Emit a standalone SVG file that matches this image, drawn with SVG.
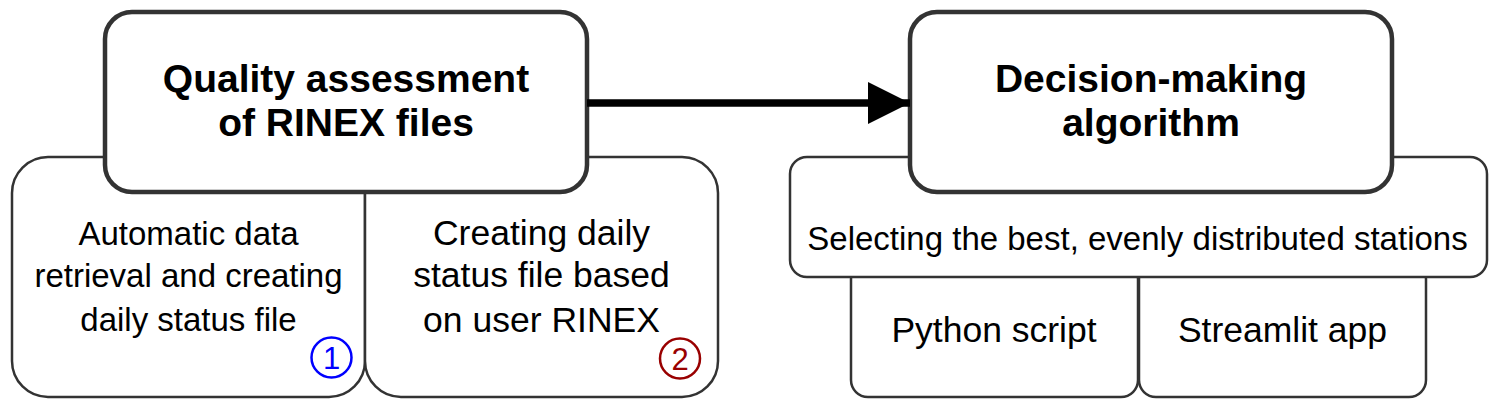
<svg xmlns="http://www.w3.org/2000/svg" width="1497" height="408" viewBox="0 0 1497 408">
<style>
.big{fill:#fff;stroke:#333;stroke-width:4.5}
.sub{fill:#fff;stroke:#333;stroke-width:2.5}
.t{font-family:"Liberation Sans",Arial,sans-serif;fill:#000;text-anchor:middle}
.title{font-size:39px;font-weight:bold}
.num{font-size:31px}
</style>
<defs>
<marker id="ah" markerUnits="userSpaceOnUse" markerWidth="44" markerHeight="42" refX="42" refY="21" orient="auto">
<path d="M0,0 L42,21 L0,42 Z" fill="#000"/>
</marker>
</defs>
<g id="auto-retrieval">
<rect class="sub" x="12" y="157" width="353" height="240" rx="36" ry="36"/>
<text class="t" font-size="33" x="188.5" y="245">Automatic data</text>
<text class="t" font-size="33" x="188.5" y="287">retrieval and creating</text>
<text class="t" font-size="33" x="188.5" y="331">daily status file</text>
<circle cx="331.5" cy="357.5" r="20" fill="none" stroke="#0000ff" stroke-width="2.5"/>
<text class="t num" x="331.5" y="368.5" style="fill:#0000ff">1</text>
</g>
<g id="user-rinex">
<rect class="sub" x="365" y="157" width="353" height="240" rx="36" ry="36"/>
<text class="t" font-size="35.5" x="541.5" y="245">Creating daily</text>
<text class="t" font-size="35.5" x="541.5" y="287">status file based</text>
<text class="t" font-size="35.5" x="541.5" y="332">on user RINEX</text>
<circle cx="680" cy="358.5" r="20" fill="none" stroke="#990000" stroke-width="2.5"/>
<text class="t num" x="680" y="369.5" style="fill:#990000">2</text>
</g>
<g id="quality">
<rect class="big" x="105" y="12" width="482" height="180" rx="27" ry="27"/>
<text class="t title" x="346" y="92">Quality assessment</text>
<text class="t title" x="346" y="136">of RINEX files</text>
</g>
<g id="python">
<rect class="sub" x="851" y="262" width="287" height="135" rx="17" ry="17"/>
<text class="t" font-size="35.5" x="994" y="342">Python script</text>
</g>
<g id="streamlit">
<rect class="sub" x="1139" y="262" width="287" height="135" rx="17" ry="17"/>
<text class="t" font-size="35.5" x="1282.5" y="342">Streamlit app</text>
</g>
<g id="selecting">
<rect class="sub" x="790" y="157" width="697" height="120" rx="17" ry="17"/>
<text class="t" font-size="33" x="1137.5" y="250">Selecting the best, evenly distributed stations</text>
</g>
<g id="decision">
<rect class="big" x="910" y="12" width="482" height="180" rx="27" ry="27"/>
<text class="t title" x="1151" y="92">Decision-making</text>
<text class="t title" x="1151" y="136">algorithm</text>
</g>
<g id="connectors">
<line x1="587" y1="103" x2="910" y2="103" stroke="#000" stroke-width="7.5" marker-end="url(#ah)"/>
</g>
</svg>
